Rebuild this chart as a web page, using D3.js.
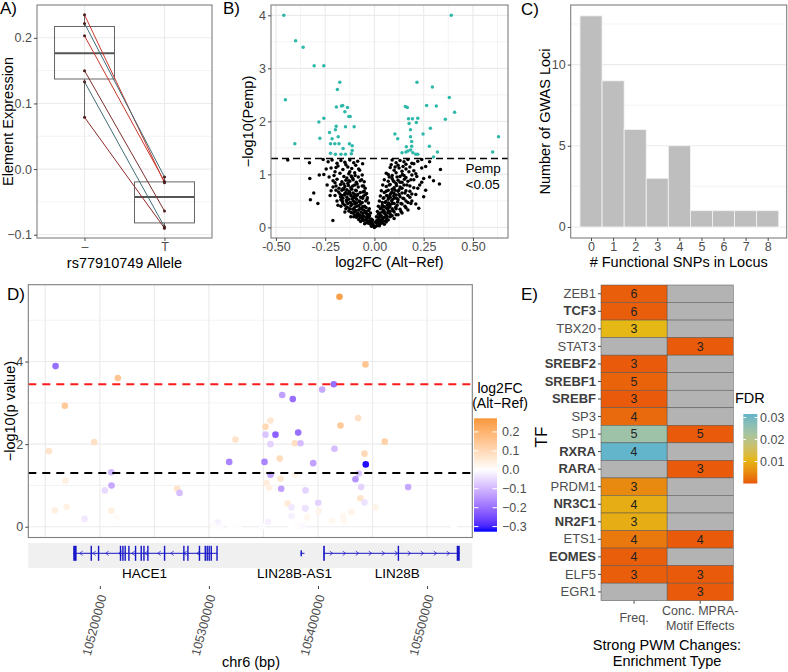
<!DOCTYPE html>
<html>
<head>
<meta charset="utf-8">
<script src="https://cdn.jsdelivr.net/npm/d3@7"></script>
<style>
  body { margin: 0; background: #fff; }
  svg { font-family: "Liberation Sans", Arial, sans-serif; }
</style>
</head>
<body>
<svg id="fig" width="788" height="672"></svg>
<script>
// ---- A) allele expression ----
const alleles = ["–", "T"];
const refExpr = [0.235, 0.222, 0.203, 0.150, 0.133, 0.079];
const altExpr = [-0.021, -0.012, -0.019, -0.064, -0.088, -0.090];
const pairColor = ["#c8372d", "#3f6d75", "#c8372d", "#7d2e2e", "#3f6d75", "#8e2a2a"];

// ---- B) volcano ----
const volcanoSig = [
  [-0.46,4.0],[-0.40,3.52],[-0.362,3.40],[-0.306,3.05],[-0.257,3.05],[-0.452,2.41],[-0.176,2.74],[-0.188,2.60],
  [-0.404,1.58],[-0.282,1.99],[-0.257,2.06],[-0.277,1.68],[-0.228,1.79],[-0.194,1.91],[-0.193,2.27],[-0.167,2.29],
  [-0.161,2.30],[-0.137,2.26],[-0.150,2.18],[-0.130,2.09],[-0.123,2.09],[-0.103,1.90],[-0.147,1.90],[-0.198,1.84],
  [-0.184,1.71],[-0.215,1.67],[-0.223,1.58],[-0.201,1.58],[-0.18,1.58],[-0.127,1.58],[-0.113,1.54],[-0.159,1.49],
  [-0.223,1.40],[-0.198,1.38],[-0.17,1.38],[-0.147,1.38],[-0.117,1.39],[-0.113,1.45],
  [0.39,4.0],[0.216,2.74],[0.294,2.65],[0.38,2.45],[0.157,2.28],[0.167,2.26],[0.265,2.30],[0.314,2.29],[0.407,2.17],
  [0.36,2.04],[0.173,2.05],[0.193,2.05],[0.22,2.06],[0.213,1.98],[0.176,1.96],[0.183,1.84],[0.284,1.87],[0.247,1.76],
  [0.104,1.76],[0.118,1.67],[0.183,1.71],[0.189,1.62],[0.162,1.52],[0.189,1.53],[0.279,1.53],[0.184,1.46],[0.17,1.44],
  [0.14,1.41],[0.16,1.42],[0.195,1.41],[0.21,1.38],[0.22,1.38],[0.32,1.42],[0.30,1.33],[0.60,1.42],[0.63,1.71]
];
const volcanoNs = `-0.44,1.27 -0.33,1.22 -0.26,1.28 -0.235,1.24 -0.215,1.27 -0.19,1.21 -0.17,1.26 -0.15,1.23 -0.125,1.27 -0.105,1.22 -0.085,1.25
-0.22,1.12 -0.185,1.16 -0.16,1.09 -0.135,1.14 -0.115,1.11 -0.095,1.17 -0.075,1.08 -0.145,1.18 -0.2,1.05
-0.257,1.0 -0.28,0.99 -0.205,0.98 -0.175,1.02 -0.155,0.96 -0.13,1.01 -0.118,0.97 -0.1,1.03 -0.082,0.95 -0.062,0.99 -0.14,0.93 -0.11,0.92
-0.328,0.92 -0.21,0.88 -0.19,0.91 -0.165,0.86 -0.145,0.89 -0.125,0.87 -0.108,0.9 -0.092,0.85 -0.072,0.88 -0.052,0.86 -0.135,0.83 -0.155,0.82
-0.24,0.8 -0.195,0.78 -0.172,0.81 -0.15,0.77 -0.132,0.79 -0.12,0.75 -0.1,0.8 -0.082,0.76 -0.062,0.78 -0.047,0.74 -0.115,0.72 -0.14,0.71 -0.16,0.73
-0.22,0.69 -0.182,0.67 -0.165,0.7 -0.145,0.66 -0.128,0.68 -0.108,0.65 -0.092,0.69 -0.072,0.66 -0.052,0.68 -0.04,0.64 -0.1,0.62 -0.12,0.61 -0.135,0.63
-0.308,0.65 -0.2,0.6 -0.172,0.58 -0.152,0.61 -0.14,0.57 -0.118,0.59 -0.098,0.56 -0.088,0.6 -0.07,0.57 -0.055,0.59 -0.036,0.56 -0.112,0.54 -0.13,0.53 -0.16,0.55
-0.325,0.52 -0.19,0.5 -0.162,0.49 -0.142,0.51 -0.122,0.47 -0.108,0.5 -0.09,0.46 -0.078,0.49 -0.062,0.47 -0.044,0.5 -0.03,0.46 -0.1,0.44 -0.115,0.43 -0.135,0.45 -0.15,0.42
-0.287,0.45 -0.17,0.4 -0.138,0.38 -0.12,0.41 -0.102,0.37 -0.09,0.4 -0.072,0.36 -0.06,0.39 -0.042,0.37 -0.026,0.35 -0.08,0.33 -0.095,0.32 -0.11,0.34 -0.13,0.31
-0.15,0.29 -0.118,0.28 -0.1,0.3 -0.085,0.27 -0.068,0.29 -0.058,0.26 -0.048,0.28 -0.035,0.25 -0.02,0.27 -0.075,0.24 -0.09,0.23 -0.06,0.22
-0.12,0.2 -0.092,0.19 -0.078,0.21 -0.062,0.18 -0.05,0.2 -0.04,0.17 -0.03,0.19 -0.016,0.16 -0.045,0.14 -0.055,0.13 -0.035,0.12
-0.211,0.13 -0.07,0.11 -0.025,0.1 -0.015,0.09 -0.008,0.07 -0.02,0.06 -0.03,0.08 -0.012,0.04 -0.005,0.03 -0.002,0.01
-0.06,0.55 -0.075,0.5 -0.085,0.62 -0.095,0.7 -0.105,0.58 -0.11,0.78 -0.125,0.66 -0.13,0.88 -0.14,0.48 -0.15,0.64 -0.155,0.72 -0.165,0.6
-0.17,0.52 -0.18,0.74 -0.185,0.42 -0.2,0.84 -0.115,0.95 -0.1,0.48 -0.09,0.53 -0.08,0.41 -0.07,0.44 -0.065,0.35 -0.055,0.33 -0.05,0.4
-0.045,0.3 -0.04,0.26 -0.035,0.21 -0.03,0.32 -0.025,0.22 -0.022,0.15 -0.018,0.12 -0.012,0.1 -0.01,0.14 -0.008,0.05 -0.015,0.02 -0.04,0.09
-0.05,0.07 -0.06,0.15 -0.07,0.18 -0.08,0.15 -0.1,0.24 -0.105,0.2 -0.11,0.27 -0.125,0.35 -0.145,0.35 -0.16,0.45 -0.175,0.63 -0.195,0.7
-0.21,0.76 -0.225,0.6 -0.23,0.95 -0.245,1.1 -0.195,1.13 -0.125,1.05 -0.065,0.9 -0.055,0.78 -0.045,0.62 -0.038,0.52 -0.058,0.67 -0.088,0.82
-0.098,0.98 -0.08,1.1 -0.06,1.2
0.09,1.27 0.11,1.22 0.13,1.26 0.15,1.24 0.17,1.28 0.19,1.21 0.22,1.25 0.28,1.24 0.16,1.19 0.12,1.17
0.08,1.13 0.1,1.08 0.125,1.12 0.14,1.06 0.16,1.1 0.18,1.14 0.2,1.07 0.335,1.09 0.145,1.15
0.06,1.02 0.09,0.98 0.11,1.03 0.13,0.96 0.142,1.0 0.16,0.94 0.19,0.99 0.21,1.01 0.28,0.95 0.075,0.95
0.05,0.9 0.07,0.87 0.09,0.92 0.1,0.86 0.12,0.89 0.14,0.85 0.152,0.91 0.17,0.87 0.2,0.9 0.24,0.85 0.30,0.88 0.11,0.83
0.042,0.8 0.06,0.77 0.08,0.81 0.1,0.75 0.112,0.79 0.13,0.76 0.15,0.8 0.18,0.78 0.22,0.74 0.33,0.82 0.09,0.72 0.125,0.71
0.035,0.69 0.05,0.66 0.07,0.7 0.09,0.67 0.1,0.64 0.12,0.68 0.14,0.65 0.16,0.69 0.19,0.63 0.08,0.62 0.11,0.61
0.03,0.59 0.048,0.56 0.062,0.6 0.08,0.57 0.098,0.59 0.112,0.55 0.13,0.58 0.15,0.54 0.18,0.57 0.25,0.58 0.07,0.53 0.09,0.52
0.025,0.5 0.04,0.47 0.058,0.49 0.072,0.46 0.088,0.5 0.1,0.45 0.118,0.48 0.14,0.44 0.17,0.47 0.21,0.44 0.065,0.42 0.08,0.43
0.02,0.4 0.035,0.37 0.05,0.39 0.062,0.36 0.078,0.4 0.09,0.35 0.108,0.38 0.13,0.34 0.16,0.37 0.225,0.36 0.045,0.33 0.07,0.32
0.015,0.3 0.028,0.27 0.04,0.29 0.052,0.26 0.068,0.28 0.08,0.25 0.1,0.29 0.12,0.24 0.14,0.27 0.06,0.23
0.01,0.2 0.02,0.18 0.03,0.21 0.04,0.17 0.05,0.19 0.062,0.16 0.08,0.2 0.1,0.17 0.035,0.14 0.045,0.12
0.005,0.1 0.012,0.08 0.02,0.11 0.03,0.07 0.04,0.09 0.05,0.06 0.06,0.1 0.015,0.04 0.008,0.02 0.025,0.03 0.0,0.0
0.02,0.25 0.025,0.14 0.03,0.35 0.035,0.22 0.04,0.42 0.045,0.55 0.05,0.3 0.055,0.47 0.06,0.68 0.065,0.36 0.07,0.58 0.075,0.8
0.08,0.3 0.085,0.65 0.09,0.45 0.095,0.88 0.1,0.55 0.105,0.7 0.11,0.35 0.115,0.95 0.12,0.52 0.125,0.62 0.13,0.85 0.135,0.45
0.14,0.74 0.145,0.55 0.15,0.98 0.155,0.65 0.16,0.5 0.165,0.8 0.17,0.6 0.175,1.05 0.18,0.68 0.185,0.9 0.19,0.5 0.2,0.75
0.21,0.62 0.215,0.96 0.23,0.8 0.24,1.12 0.25,0.92 0.26,0.7 0.027,0.08 0.033,0.12 0.018,0.06 0.012,0.13 0.04,0.16 0.055,0.12
0.07,0.14 0.09,0.22 0.11,0.24 0.065,0.2 0.075,0.38 0.095,0.32 0.115,0.42 0.135,0.3 0.155,0.4 0.17,0.33 0.185,0.45 0.07,1.0
0.085,1.18 0.105,1.14 0.2,1.2 0.24,1.28 0.26,1.15`;
const pempCut = 1.3;

// ---- C) functional SNPs per locus ----
const nSnps = [0, 1, 2, 3, 4, 5, 6, 7, 8];
const nLoci = [13, 9, 6, 3, 5, 1, 1, 1, 1];

// ---- D) locus plot: [position bp, -log10 p, log2FC] ----
const snps = [
  [105159400,3.89,-0.20],[105216500,3.60,0.15],[105167900,2.93,0.14],[105153250,1.83,0.07],[105194870,2.05,0.08],
  [105168560,1.12,0.04],[105210450,1.32,-0.10],[105210720,1.00,-0.12],[105204580,0.88,-0.05],[105158750,0.40,0.04],
  [105169480,0.48,0.035],[105185980,0.19,-0.03],[105210450,0.39,0.04],[105215310,0.22,0.01],[105270950,0.92,0.07],
  [105273050,0.82,-0.09],[105318600,1.57,-0.17],[105324380,2.11,0.07],[105308160,0.10,-0.02],[105350960,1.57,-0.17],
  [105351880,2.42,0.10],[105351880,2.23,-0.08],[105356460,2.57,0.06],[105356460,2.00,-0.06],[105352800,1.06,0.05],
  [105354910,0.95,0.04],[105354350,0.12,-0.02],[105376900,3.09,-0.20],[105361050,2.23,-0.22],[105381850,2.28,-0.20],
  [105378740,2.02,0.08],[105383960,2.02,-0.09],[105364990,1.65,0.09],[105395600,1.54,-0.13],[105356460,1.26,-0.13],
  [105378460,1.26,0.03],[105365630,1.16,0.06],[105366270,0.92,-0.13],[105388540,0.88,-0.06],[105372320,0.56,0.05],
  [105400180,0.58,-0.06],[105388540,0.44,-0.04],[105400740,0.38,0.03],[105390100,0.22,0.02],[105375710,0.26,-0.02],
  [105436850,2.63,0.08],[105420630,2.45,0.14],[105461230,2.06,0.12],[105415130,1.89,-0.09],[105442620,1.77,0.10],
  [105443820,1.51,-0.32],[105437400,1.29,-0.08],[105434370,1.15,-0.15],[105439600,0.96,-0.06],[105482680,0.96,-0.12],
  [105438960,0.69,0.07],[105442620,0.59,-0.04],[105452700,0.47,0.03],[105430430,0.36,0.03],[105423100,0.26,0.02],
  [105423650,0.16,0.02],[105413020,0.15,0.02],[105524480,0.02,0.0],[105419710,5.57,0.25],[105443540,3.93,0.15],
  [105414480,3.45,-0.20],[105403850,3.32,-0.12],[105367190,3.19,-0.13],[105388270,0.45,-0.04],[105375710,0.47,-0.03],
  [105304230,0.03,0.005],[105310640,0.01,-0.005],[105319800,0.02,0.0],[105327130,0.0,0.005],[105349130,0.02,-0.005],
  [105374790,0.03,0.0],[105380290,0.01,0.005],[105385790,0.02,-0.01]
];
const sigLines = [{y: 3.45, color: "#ff1a1a"}, {y: 1.3, color: "#000"}];
const genomeTicks = [105200000, 105300000, 105400000, 105500000];
const genes = [
  {name: "HACE1", start: 105175600, end: 105307600, strand: -1, label: 105241000, exonH: 15,
   exons: [[105175600,105178700],[105191500,105192500],[105198200,105199200],[105218300,105219300],[105220500,105221500],
           [105222600,105223600],[105226000,105227000],[105232100,105233100],[105237300,105238300],[105239800,105240800],
           [105243400,105244400],[105258700,105259700],[105276400,105277400],[105280100,105281100],[105290700,105291700],
           [105296000,105297000],[105297800,105298800],[105299600,105300600],[105301500,105302500],[105306800,105307800]]},
  {name: "LIN28B-AS1", start: 105384000, end: 105387600, strand: 0, label: 105378500, exonH: 6,
   exons: [[105384000,105384900]]},
  {name: "LIN28B", start: 105404800, end: 105530000, strand: 1, label: 105472600, exonH: 15,
   exons: [[105404800,105406300],[105473100,105474100],[105527200,105530000]]}
];

// ---- E) TF enrichment ----
const tfNames = ["ZEB1","TCF3","TBX20","STAT3","SREBF2","SREBF1","SREBF","SP3","SP1","RXRA","RARA","PRDM1","NR3C1","NR2F1","ETS1","EOMES","ELF5","EGR1"];
const tfBold = ["TCF3","SREBF2","SREBF1","SREBF","RXRA","RARA","NR3C1","NR2F1","EOMES"];
const enrichTypes = ["Freq.", "Conc."];
const freqCount = [6,6,3,null,3,5,3,4,5,4,null,3,4,3,4,4,3,null];
const freqFdr = [0.0008,0.0008,0.011,null,0.0005,0.0012,0.0005,0.0018,0.024,0.0315,null,0.005,0.0095,0.0095,0.003,0.0008,0.0008,null];
const concCount = [null,null,null,3,null,null,null,null,5,null,3,null,null,null,4,null,3,3];
const concFdr = [null,null,null,0.0005,null,null,null,null,0.0005,null,0.0005,null,null,null,0.0005,null,0.0005,0.0005];
const fdrTicks = [0.01, 0.02, 0.03];

// ================= drawing =================
const GRID = "#ebebeb", BORDER = "#7f7f7f", TICKTXT = "#4d4d4d";
const svg = d3.select("#fig");
svg.append("rect").attr("width", 788).attr("height", 672).attr("fill", "#fff");
const defs = svg.append("defs");

function txt(g, x, y, s, size, opts = {}) {
  const t = g.append("text").attr("x", x).attr("y", y).text(s)
    .style("font-size", size + "px").attr("fill", opts.fill || "#000")
    .attr("text-anchor", opts.anchor || "start");
  if (opts.rotate) t.attr("transform", `rotate(${opts.rotate},${x},${y})`);
  if (opts.bold) t.style("font-weight", "bold");
  return t;
}
function hGrid(g, y, vals, box, w) {
  g.selectAll(null).data(vals).join("line")
    .attr("x1", box.x0).attr("x2", box.x1).attr("y1", y).attr("y2", y)
    .attr("stroke", GRID).attr("stroke-width", w);
}
function vGrid(g, x, vals, box, w) {
  g.selectAll(null).data(vals).join("line")
    .attr("y1", box.y0).attr("y2", box.y1).attr("x1", x).attr("x2", x)
    .attr("stroke", GRID).attr("stroke-width", w);
}
function frame(g, box) {
  g.append("rect").attr("x", box.x0).attr("y", box.y0)
    .attr("width", box.x1 - box.x0).attr("height", box.y1 - box.y0)
    .attr("fill", "none").attr("stroke", BORDER).attr("stroke-width", 1.1);
}
function styleAxis(ax) {
  ax.attr("font-family", null).attr("font-size", null);
  ax.select(".domain").remove();
  ax.selectAll(".tick line").attr("stroke", "#333").attr("stroke-width", 0.9);
  ax.selectAll(".tick text").attr("fill", TICKTXT).style("font-size", "12.5px");
  return ax;
}
function leftAxis(g, scale, x, vals, fmt) {
  return styleAxis(g.append("g").attr("transform", `translate(${x},0)`)
    .call(d3.axisLeft(scale).tickValues(vals).tickFormat(fmt).tickSize(3).tickPadding(2)));
}
function bottomAxis(g, scale, y, vals, fmt) {
  return styleAxis(g.append("g").attr("transform", `translate(0,${y})`)
    .call(d3.axisBottom(scale).tickValues(vals).tickFormat(fmt).tickSize(3).tickPadding(1.5)));
}
const minus = s => s.replace("-", "\u2212");

// ---------- Panel A ----------
{
  const box = {x0: 37, x1: 212, y0: 5, y1: 238};
  const g = svg.append("g");
  const x = d3.scalePoint().domain(alleles).range([box.x0, box.x1]).padding(0.594);
  const y = d3.scaleLinear().domain([-0.105, 0.25]).range([box.y1, box.y0]);
  hGrid(g, d => y(d), [-0.05, 0.05, 0.15], box, 0.6);
  hGrid(g, d => y(d), [-0.1, 0, 0.1, 0.2], box, 1.1);
  vGrid(g, d => x(d), alleles, box, 1.1);

  [refExpr, altExpr].forEach((vals, i) => {
    const s = vals.slice().sort(d3.ascending);
    const q1 = d3.quantileSorted(s, 0.25), med = d3.quantileSorted(s, 0.5), q3 = d3.quantileSorted(s, 0.75);
    const iqr = q3 - q1;
    const lo = d3.min(s.filter(v => v >= q1 - 1.5 * iqr)), hi = d3.max(s.filter(v => v <= q3 + 1.5 * iqr));
    const cx = x(alleles[i]), bw = x.step() * 0.75;
    g.append("line").attr("x1", cx).attr("x2", cx).attr("y1", y(hi)).attr("y2", y(q3)).attr("stroke", "#666");
    g.append("line").attr("x1", cx).attr("x2", cx).attr("y1", y(q1)).attr("y2", y(lo)).attr("stroke", "#666");
    g.append("rect").attr("x", cx - bw / 2).attr("width", bw).attr("y", y(q3)).attr("height", y(q1) - y(q3))
      .attr("fill", "none").attr("stroke", "#666").attr("stroke-width", 1);
    g.append("line").attr("x1", cx - bw / 2).attr("x2", cx + bw / 2).attr("y1", y(med)).attr("y2", y(med))
      .attr("stroke", "#555").attr("stroke-width", 1.8);
  });

  g.selectAll(null).data(refExpr).join("line")
    .attr("x1", x(alleles[0])).attr("y1", d => y(d))
    .attr("x2", x(alleles[1])).attr("y2", (d, i) => y(altExpr[i]))
    .attr("stroke", (d, i) => pairColor[i]).attr("stroke-width", 1);
  [refExpr, altExpr].forEach((vals, i) => {
    g.selectAll(null).data(vals).join("circle")
      .attr("cx", x(alleles[i])).attr("cy", d => y(d)).attr("r", 1.5).attr("fill", "#4a1c1c");
  });
  frame(g, box);
  leftAxis(g, y, box.x0, [-0.1, 0, 0.1, 0.2], d => minus(d.toFixed(1)));
  bottomAxis(g, x, box.y1, alleles, d => d);
  txt(g, 12.5, (box.y0 + box.y1) / 2, "Element Expression", 14.5, {anchor: "middle", rotate: -90});
  txt(g, (box.x0 + box.x1) / 2, 268, "rs77910749 Allele", 14.5, {anchor: "middle"});
  txt(g, 0, 14, "A)", 17);
}

// ---------- Panel B ----------
{
  const box = {x0: 271, x1: 508, y0: 5, y1: 238};
  const g = svg.append("g");
  const x = d3.scaleLinear().domain([-0.525, 0.678]).range([box.x0, box.x1]);
  const y = d3.scaleLinear().domain([-0.2, 4.195]).range([box.y1, box.y0]);
  hGrid(g, d => y(d), [0.5, 1.5, 2.5, 3.5], box, 0.6);
  vGrid(g, d => x(d), [-0.375, -0.125, 0.125, 0.375, 0.625], box, 0.6);
  hGrid(g, d => y(d), [0, 1, 2, 3, 4], box, 1.1);
  vGrid(g, d => x(d), [-0.5, -0.25, 0, 0.25, 0.5], box, 1.1);

  const ns = volcanoNs.trim().split(/\s+/).map(p => p.split(",").map(Number));
  g.selectAll(null).data(ns).join("circle")
    .attr("cx", d => x(d[0])).attr("cy", d => y(d[1])).attr("r", 1.75).attr("fill", "#000");
  g.selectAll(null).data(volcanoSig).join("circle")
    .attr("cx", d => x(d[0])).attr("cy", d => y(d[1])).attr("r", 1.75).attr("fill", "#2eb8aa");
  g.append("line").attr("x1", box.x0).attr("x2", box.x1).attr("y1", y(pempCut)).attr("y2", y(pempCut))
    .attr("stroke", "#000").attr("stroke-width", 1.6).attr("stroke-dasharray", "7,4");
  txt(g, 465.5, 173, "Pemp", 13.5);
  txt(g, 465.5, 189, "<0.05", 13.5);
  frame(g, box);
  leftAxis(g, y, box.x0, [0, 1, 2, 3, 4], d3.format("d"));
  bottomAxis(g, x, box.y1, [-0.5, -0.25, 0, 0.25, 0.5], d => d.toFixed(2));
  txt(g, 253, (box.y0 + box.y1) / 2, "\u2212log10(Pemp)", 14.5, {anchor: "middle", rotate: -90});
  txt(g, (box.x0 + box.x1) / 2, 267, "log2FC (Alt\u2212Ref)", 14.5, {anchor: "middle"});
  txt(g, 223, 14, "B)", 17);
}

// ---------- Panel C ----------
{
  const box = {x0: 570.7, x1: 786.7, y0: 5, y1: 238};
  const g = svg.append("g");
  const x = d3.scaleLinear().domain([-0.92, 8.86]).range([box.x0, box.x1]);
  const y = d3.scaleLinear().domain([-0.68, 13.67]).range([box.y1, box.y0]);
  hGrid(g, d => y(d), [2.5, 7.5, 12.5], box, 0.6);
  hGrid(g, d => y(d), [0, 5, 10], box, 1.1);
  g.selectAll(null).data(nSnps).join("rect")
    .attr("x", d => x(d - 0.5)).attr("width", d => x(d + 0.5) - x(d - 0.5))
    .attr("y", (d, i) => y(nLoci[i])).attr("height", (d, i) => y(0) - y(nLoci[i]))
    .attr("fill", "#bebebe").attr("stroke", "#f4f4f4").attr("stroke-width", 0.8);
  frame(g, box);
  leftAxis(g, y, box.x0, [0, 5, 10], d3.format("d"));
  bottomAxis(g, x, box.y1, nSnps, d3.format("d"));
  txt(g, 550, (box.y0 + box.y1) / 2, "Number of GWAS Loci", 14.5, {anchor: "middle", rotate: -90});
  txt(g, (box.x0 + box.x1) / 2, 267, "# Functional SNPs in Locus", 14.5, {anchor: "middle"});
  txt(g, 521, 14.5, "C)", 17);
}

// ---------- Panel D ----------
{
  const box = {x0: 28.3, x1: 472.3, y0: 284.7, y1: 537.5};
  const g = svg.append("g");
  const x = d3.scaleLinear().domain([105134400, 105541500]).range([box.x0, box.x1]);
  const y = d3.scaleLinear().domain([-0.26, 5.86]).range([box.y1, box.y0]);
  const color = d3.scaleLinear().domain([-0.327, 0, 0.272]).range(["#0000ff", "#ffffff", "#f7983a"])
    .interpolate(d3.interpolateLab).clamp(true);
  hGrid(g, d => y(d), [1, 3, 5], box, 0.6);
  hGrid(g, d => y(d), [0, 2, 4], box, 1.1);
  vGrid(g, d => x(d), d3.range(105150000, 105540000, 50000), box, 1.1);

  g.selectAll(null).data(snps).join("circle")
    .attr("cx", d => x(d[0])).attr("cy", d => y(d[1])).attr("r", 3.3)
    .attr("fill", d => color(d[2]));
  sigLines.forEach(l => {
    g.append("line").attr("x1", box.x0).attr("x2", box.x1).attr("y1", y(l.y)).attr("y2", y(l.y))
      .attr("stroke", l.color).attr("stroke-width", 2).attr("stroke-dasharray", "8,6");
  });
  frame(g, box);
  leftAxis(g, y, box.x0, [0, 2, 4], d3.format("d"));
  txt(g, 15, (box.y0 + box.y1) / 2, "\u2212log10(p value)", 14.5, {anchor: "middle", rotate: -90});
  txt(g, 7, 300, "D)", 17);

  // gene track
  const tr = g.append("g");
  const cy = 553.3;
  tr.append("rect").attr("x", box.x0).attr("y", 543).attr("width", box.x1 - box.x0).attr("height", 25)
    .attr("fill", "#f0f0f0");
  const gc = "#1616c8";
  genes.forEach(ge => {
    tr.append("line").attr("x1", x(ge.start)).attr("x2", x(ge.end)).attr("y1", cy).attr("y2", cy)
      .attr("stroke", gc).attr("stroke-width", 1);
    tr.selectAll(null).data(ge.exons).join("rect")
      .attr("x", d => x(d[0])).attr("width", d => Math.max(1.4, x(d[1]) - x(d[0])))
      .attr("y", cy - ge.exonH / 2).attr("height", ge.exonH).attr("fill", gc);
    if (ge.strand !== 0) {
      const step = 13, x0 = x(ge.start) + 8, x1 = x(ge.end) - 6;
      d3.range(x0, x1, step).forEach(px => {
        const a = ge.strand * 1.5;
        tr.append("path").attr("d", `M${px - a},${cy - 2.2}L${px + a},${cy}L${px - a},${cy + 2.2}`)
          .attr("fill", "none").attr("stroke", gc).attr("stroke-width", 0.7);
      });
    }
    txt(tr, x(ge.label), 577.5, ge.name, 13.5, {anchor: "middle"});
  });
  const ax = bottomAxis(g, x, 586, genomeTicks, d3.format("d"));
  ax.selectAll(".tick text").attr("y", 0).attr("dy", "0.35em").attr("text-anchor", "end")
    .attr("transform", "translate(2,9) rotate(-75)");
  txt(g, 251, 667, "chr6 (bp)", 14.5, {anchor: "middle"});

  // colour legend
  const lg = g.append("g");
  const ly = d3.scaleLinear().domain([-0.327, 0.272]).range([531.7, 418.3]);
  const grad = defs.append("linearGradient").attr("id", "fcGrad")
    .attr("x1", 0).attr("x2", 0).attr("y1", 1).attr("y2", 0);
  d3.range(0, 1.0001, 0.05).forEach(t => {
    grad.append("stop").attr("offset", t).attr("stop-color", color(-0.327 + t * (0.272 + 0.327)));
  });
  lg.append("rect").attr("x", 474).attr("y", 418.3).attr("width", 23).attr("height", 531.7 - 418.3)
    .attr("fill", "url(#fcGrad)");
  const lt = [-0.3, -0.2, -0.1, 0, 0.1, 0.2];
  lg.selectAll(null).data(lt).join("g").each(function (d) {
    const s = d3.select(this);
    s.append("line").attr("x1", 474).attr("x2", 478.5).attr("y1", ly(d)).attr("y2", ly(d)).attr("stroke", "#fff");
    s.append("line").attr("x1", 492.5).attr("x2", 497).attr("y1", ly(d)).attr("y2", ly(d)).attr("stroke", "#fff");
    txt(s, 502, ly(d) + 4.3, minus(d.toFixed(1)), 12.5, {fill: TICKTXT});
  });
  txt(lg, 500, 393, "log2FC", 14, {anchor: "middle"});
  txt(lg, 500, 408, "(Alt\u2212Ref)", 14, {anchor: "middle"});
}

// ---------- Panel E ----------
{
  const g = svg.append("g");
  const x = d3.scaleBand().domain(enrichTypes).range([601, 733.3]);
  const y = d3.scaleBand().domain(tfNames).range([285, 600.7]);
  const fdrColor = d3.scaleLinear().domain([0, 0.004, 0.011, 0.022, 0.0316])
    .range(["#e9540a", "#e8820f", "#e5b816", "#a9c59e", "#62b5cb"]).interpolate(d3.interpolateLab);
  const cells = [];
  tfNames.forEach((tf, i) => {
    cells.push({tf, type: enrichTypes[0], n: freqCount[i], fdr: freqFdr[i]});
    cells.push({tf, type: enrichTypes[1], n: concCount[i], fdr: concFdr[i]});
  });
  g.selectAll(null).data(cells).join("rect")
    .attr("x", d => x(d.type)).attr("y", d => y(d.tf)).attr("width", x.bandwidth()).attr("height", y.bandwidth())
    .attr("fill", d => d.fdr == null ? "#b3b3b3" : fdrColor(d.fdr))
    .attr("stroke", "#555").attr("stroke-width", 0.5);
  g.selectAll(null).data(cells.filter(d => d.n != null)).join("text")
    .attr("x", d => x(d.type) + x.bandwidth() / 2).attr("y", d => y(d.tf) + y.bandwidth() / 2 + 4.3)
    .attr("text-anchor", "middle").style("font-size", "12.5px").attr("fill", "#222").text(d => d.n);

  const ya = styleAxis(g.append("g").attr("transform", "translate(601,0)")
    .call(d3.axisLeft(y).tickSize(3).tickPadding(2)));
  ya.selectAll(".tick text").style("font-size", "13px")
    .style("font-weight", d => tfBold.includes(d) ? "bold" : "normal")
    .attr("fill", d => tfBold.includes(d) ? "#3d3d3d" : TICKTXT);
  styleAxis(g.append("g").attr("transform", "translate(0,600.7)")
    .call(d3.axisBottom(x).tickSize(3).tickFormat("")));
  txt(g, x(enrichTypes[0]) + x.bandwidth() / 2, 622, "Freq.", 12.5, {anchor: "middle", fill: TICKTXT});
  txt(g, x(enrichTypes[1]) + x.bandwidth() / 2, 615, "Conc. MPRA-", 12.5, {anchor: "middle", fill: TICKTXT});
  txt(g, x(enrichTypes[1]) + x.bandwidth() / 2, 629.5, "Motif Effects", 12.5, {anchor: "middle", fill: TICKTXT});
  txt(g, 667, 650, "Strong PWM Changes:", 14.5, {anchor: "middle"});
  txt(g, 667, 666, "Enrichment Type", 14.5, {anchor: "middle"});
  txt(g, 546.5, 437, "TF", 17, {anchor: "middle", rotate: -90});
  txt(g, 521, 300, "E)", 17);

  // FDR legend
  const ly = d3.scaleLinear().domain([0, 0.0316]).range([483.5, 414]);
  const grad = defs.append("linearGradient").attr("id", "fdrGrad")
    .attr("x1", 0).attr("x2", 0).attr("y1", 1).attr("y2", 0);
  d3.range(0, 1.0001, 0.05).forEach(t => {
    grad.append("stop").attr("offset", t).attr("stop-color", fdrColor(t * 0.0316));
  });
  g.append("rect").attr("x", 743.3).attr("y", 414).attr("width", 14).attr("height", 69.5).attr("fill", "url(#fdrGrad)");
  fdrTicks.forEach(d => {
    g.append("line").attr("x1", 743.3).attr("x2", 746).attr("y1", ly(d)).attr("y2", ly(d)).attr("stroke", "#fff");
    g.append("line").attr("x1", 754.6).attr("x2", 757.3).attr("y1", ly(d)).attr("y2", ly(d)).attr("stroke", "#fff");
    txt(g, 760, ly(d) + 4.3, d.toFixed(2), 12.5, {fill: TICKTXT});
  });
  txt(g, 735, 403, "FDR", 14.5);
}
</script>
</body>
</html>
